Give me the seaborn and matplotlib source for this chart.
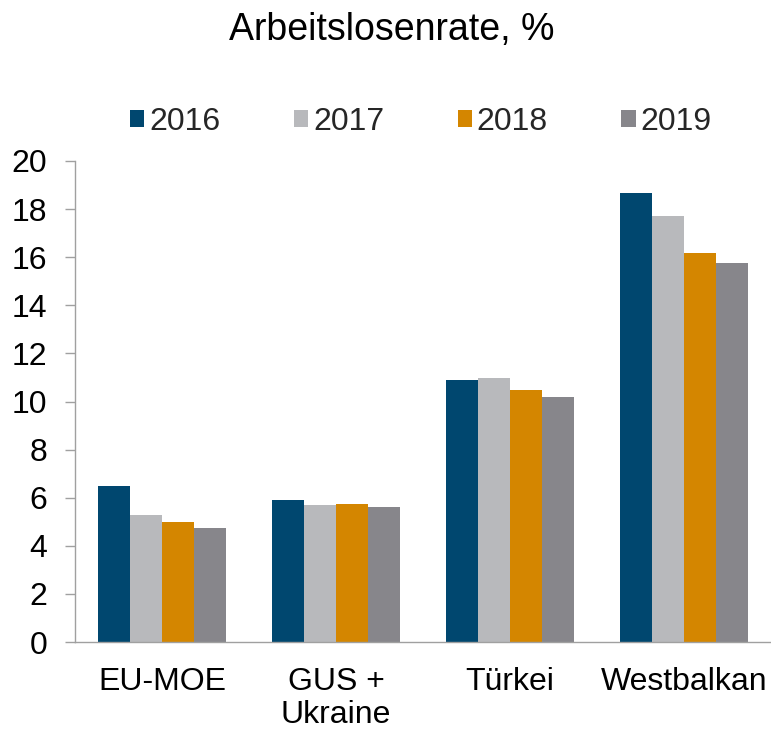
import matplotlib
matplotlib.use("Agg")
import matplotlib.pyplot as plt
import seaborn as sns
import pandas as pd

categories = ["EU-MOE", "GUS +\nUkraine", "Türkei", "Westbalkan"]
years = ["2016", "2017", "2018", "2019"]
v2016 = [6.49, 5.91, 10.88, 18.68]
v2017 = [5.30, 5.69, 10.97, 17.70]
v2018 = [4.97, 5.74, 10.47, 16.18]
v2019 = [4.72, 5.63, 10.18, 15.77]
colors = ["#00476F", "#B8B9BC", "#D48600", "#87868B"]
title = "Arbeitslosenrate, %"
yticks = [0, 2, 4, 6, 8, 10, 12, 14, 16, 18, 20]

series = [v2016, v2017, v2018, v2019]
rows = []
for y, vals in zip(years, series):
    for c, v in zip(categories, vals):
        rows.append({"region": c, "year": y, "value": v})
df = pd.DataFrame(rows)

sns.set_theme(style="white")
plt.rcParams["font.family"] = ["Liberation Sans", "DejaVu Sans"]

fig = plt.figure(figsize=(7.71, 7.32), dpi=100)
ax = fig.add_axes([75 / 771, 1 - 642 / 732, (771 - 75) / 771, (642 - 161) / 732])

sns.barplot(data=df, x="region", y="value", hue="year", order=categories,
            hue_order=years, palette=colors, saturation=1, width=0.73,
            linewidth=0, ax=ax, legend=True)

ax.set_ylim(0, 20)
ax.set_xlim(-0.5, 3.5)
ax.set_yticks(yticks)
ax.set_yticklabels([str(t) for t in yticks], fontsize=23, color="black")
ax.tick_params(axis="y", which="major", length=7, width=1, color="#A0A0A0",
               direction="out", left=True, pad=13)
ax.tick_params(axis="x", length=0, labelsize=23, labelcolor="black", pad=18)
for lbl in ax.get_xticklabels():
    lbl.set_linespacing(1.15)
ax.set_xlabel("")
ax.set_ylabel("")
for s in ["top", "right"]:
    ax.spines[s].set_visible(False)
for s in ["left", "bottom"]:
    ax.spines[s].set_color("#A0A0A0")
    ax.spines[s].set_linewidth(1)

handles, labels = ax.get_legend_handles_labels()
ax.legend(handles, labels, ncol=4, loc="center", bbox_to_anchor=(0.497, 1 + (161 - 122) / 481),
          frameon=False, fontsize=23, handlelength=0.45, handleheight=0.45,
          handletextpad=0.15, columnspacing=2.3, borderaxespad=0)

fig.text(0.508, 1 - 30 / 732, title, ha="center", va="center", fontsize=27, color="black")

fig.savefig("out.png", dpi=100)
